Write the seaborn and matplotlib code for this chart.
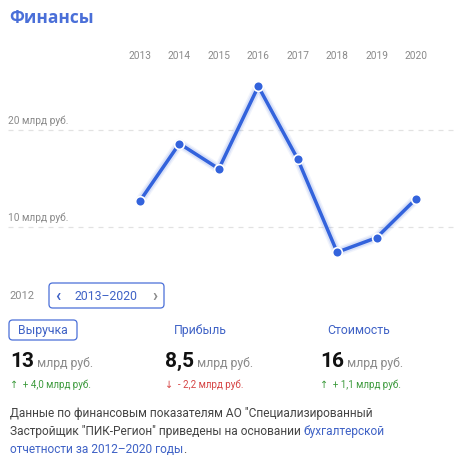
import matplotlib
matplotlib.use("Agg")
import matplotlib.pyplot as plt
import seaborn as sns
import pandas as pd
from matplotlib.patches import FancyBboxPatch

years = [2013, 2014, 2015, 2016, 2017, 2018, 2019, 2020]
revenue = [12.7, 18.6, 16.0, 24.5, 17.0, 7.4, 8.9, 12.9]
grid_values = [10, 20]
grid_labels = ["10 млрд руб.", "20 млрд руб."]

metrics = ["Выручка", "Прибыль", "Стоимость"]
metric_values = ["13", "8,5", "16"]
metric_changes = ["↑  + 4,0 млрд руб.", "↓  - 2,2 млрд руб.", "↑  + 1,1 млрд руб."]
metric_up = [True, False, True]

sns.set_theme(style="white")
plt.rcParams["font.family"] = ["Roboto", "DejaVu Sans"]

W, H = 458, 463
fig = plt.figure(figsize=(W / 100, H / 100), dpi=100)

BLUE = "#3363dc"
TEXTBLUE = "#3f62c6"
GRAY = "#8a8a8a"

def fx(px):
    return px / W

def fy(py):
    return 1 - py / H

# chart axes: pixels y 75..265 full width
top_px, bot_px = 75, 265
ax = fig.add_axes([0, fy(bot_px), 1, (bot_px - top_px) / H])
pxy = 9.7  # px per unit
ytop = 10 + (227 - top_px) / pxy
ybot = 10 - (bot_px - 227) / pxy
ax.set_ylim(ybot, ytop)
pxx = (416 - 140) / 7
x0 = 2013 - 140 / pxx
ax.set_xlim(x0, x0 + W / pxx)

df = pd.DataFrame({"year": years, "value": revenue})
for lw, a in [(7, 0.07), (5, 0.12)]:
    sns.lineplot(data=df, x="year", y="value", ax=ax, color=BLUE, lw=lw, alpha=a)
sns.lineplot(data=df, x="year", y="value", ax=ax, color=BLUE, lw=2.5,
             marker="o", markersize=7, markeredgecolor="white",
             markeredgewidth=1.2, markerfacecolor=BLUE)

for v, lab in zip(grid_values, grid_labels):
    ax.axhline(v, xmin=8 / W, xmax=1, color="#e2e2e2", lw=0.9, ls=(0, (4, 4)), zorder=0)
    ax.text(fx(8), v + 0.4, lab, transform=ax.get_yaxis_transform(),
            fontsize=7.3, color=GRAY, va="bottom", ha="left")

ax.set_xticks(years)
ax.set_xticklabels([str(y) for y in years])
ax.xaxis.tick_top()
ax.tick_params(axis="x", length=0, pad=10, labelsize=7.3, labelcolor=GRAY)
ax.set_yticks([])
ax.set_xlabel("")
ax.set_ylabel("")
for s in ax.spines.values():
    s.set_visible(False)
ax.patch.set_alpha(0)

# title
fig.text(fx(9), fy(18), "Финансы", fontsize=12.5, fontweight="bold",
         color="#4a6fd8", va="center", ha="left", family=["Open Sans", "DejaVu Sans"])

renderer = fig.canvas.get_renderer()

def text_after(prev, s, **kw):
    bb = prev.get_window_extent(renderer=renderer)
    x = bb.x1 / W
    t = fig.text(x, prev.get_position()[1], s, **kw)
    return t

# period selector
fig.text(fx(9), fy(296), "2012", fontsize=8, color=GRAY, va="center", ha="left")
box = FancyBboxPatch((fx(49), fy(308)), fx(164) - fx(49), fy(283) - fy(308),
                     boxstyle="round,pad=0,rounding_size=0.008",
                     transform=fig.transFigure, fill=False, ec="#4a6fd8", lw=0.9)
fig.add_artist(box)
fig.text(fx(58), fy(296), "‹", fontsize=12, color=TEXTBLUE, va="center", ha="center", fontweight="bold")
fig.text(fx(106), fy(296), "2013–2020", fontsize=8.8, color=TEXTBLUE, va="center", ha="center")
fig.text(fx(155), fy(296), "›", fontsize=12, color="#8a8a8a", va="center", ha="center", fontweight="bold")

# metrics
mx = [10, 165, 320]
label_cx = [43, 200, 359]
box2 = FancyBboxPatch((fx(9), fy(340)), fx(77) - fx(9), fy(320) - fy(340),
                      boxstyle="round,pad=0,rounding_size=0.008",
                      transform=fig.transFigure, fill=False, ec="#4a6fd8", lw=0.9)
fig.add_artist(box2)
for i in range(3):
    fig.text(fx(label_cx[i]), fy(330.5), metrics[i], fontsize=8.8, color=TEXTBLUE,
             va="center", ha="center")
    t = fig.text(fx(mx[i]), fy(367), metric_values[i], fontsize=15, fontweight="bold",
                 color="#111111", va="baseline", ha="left")
    text_after(t, " млрд руб.", fontsize=8.8, color=GRAY, va="baseline", ha="left")
    fig.text(fx(mx[i]), fy(384.5), metric_changes[i], fontsize=7,
             color="#3c9a3c" if metric_up[i] else "#d64545", va="center", ha="left")

# paragraph
PC = "#444444"
fs = 8.6
fig.text(fx(10), fy(417), 'Данные по финансовым показателям АО "Специализированный',
         fontsize=fs, color=PC, va="baseline", ha="left")
t = fig.text(fx(10), fy(435), 'Застройщик "ПИК-Регион" приведены на основании ',
             fontsize=fs, color=PC, va="baseline", ha="left")
text_after(t, "бухгалтерской", fontsize=fs, color=TEXTBLUE, va="baseline", ha="left")
t = fig.text(fx(10), fy(453), "отчетности за 2012–2020 годы",
             fontsize=fs, color=TEXTBLUE, va="baseline", ha="left")
text_after(t, ".", fontsize=fs, color=PC, va="baseline", ha="left")

fig.savefig("out.png", dpi=100)
